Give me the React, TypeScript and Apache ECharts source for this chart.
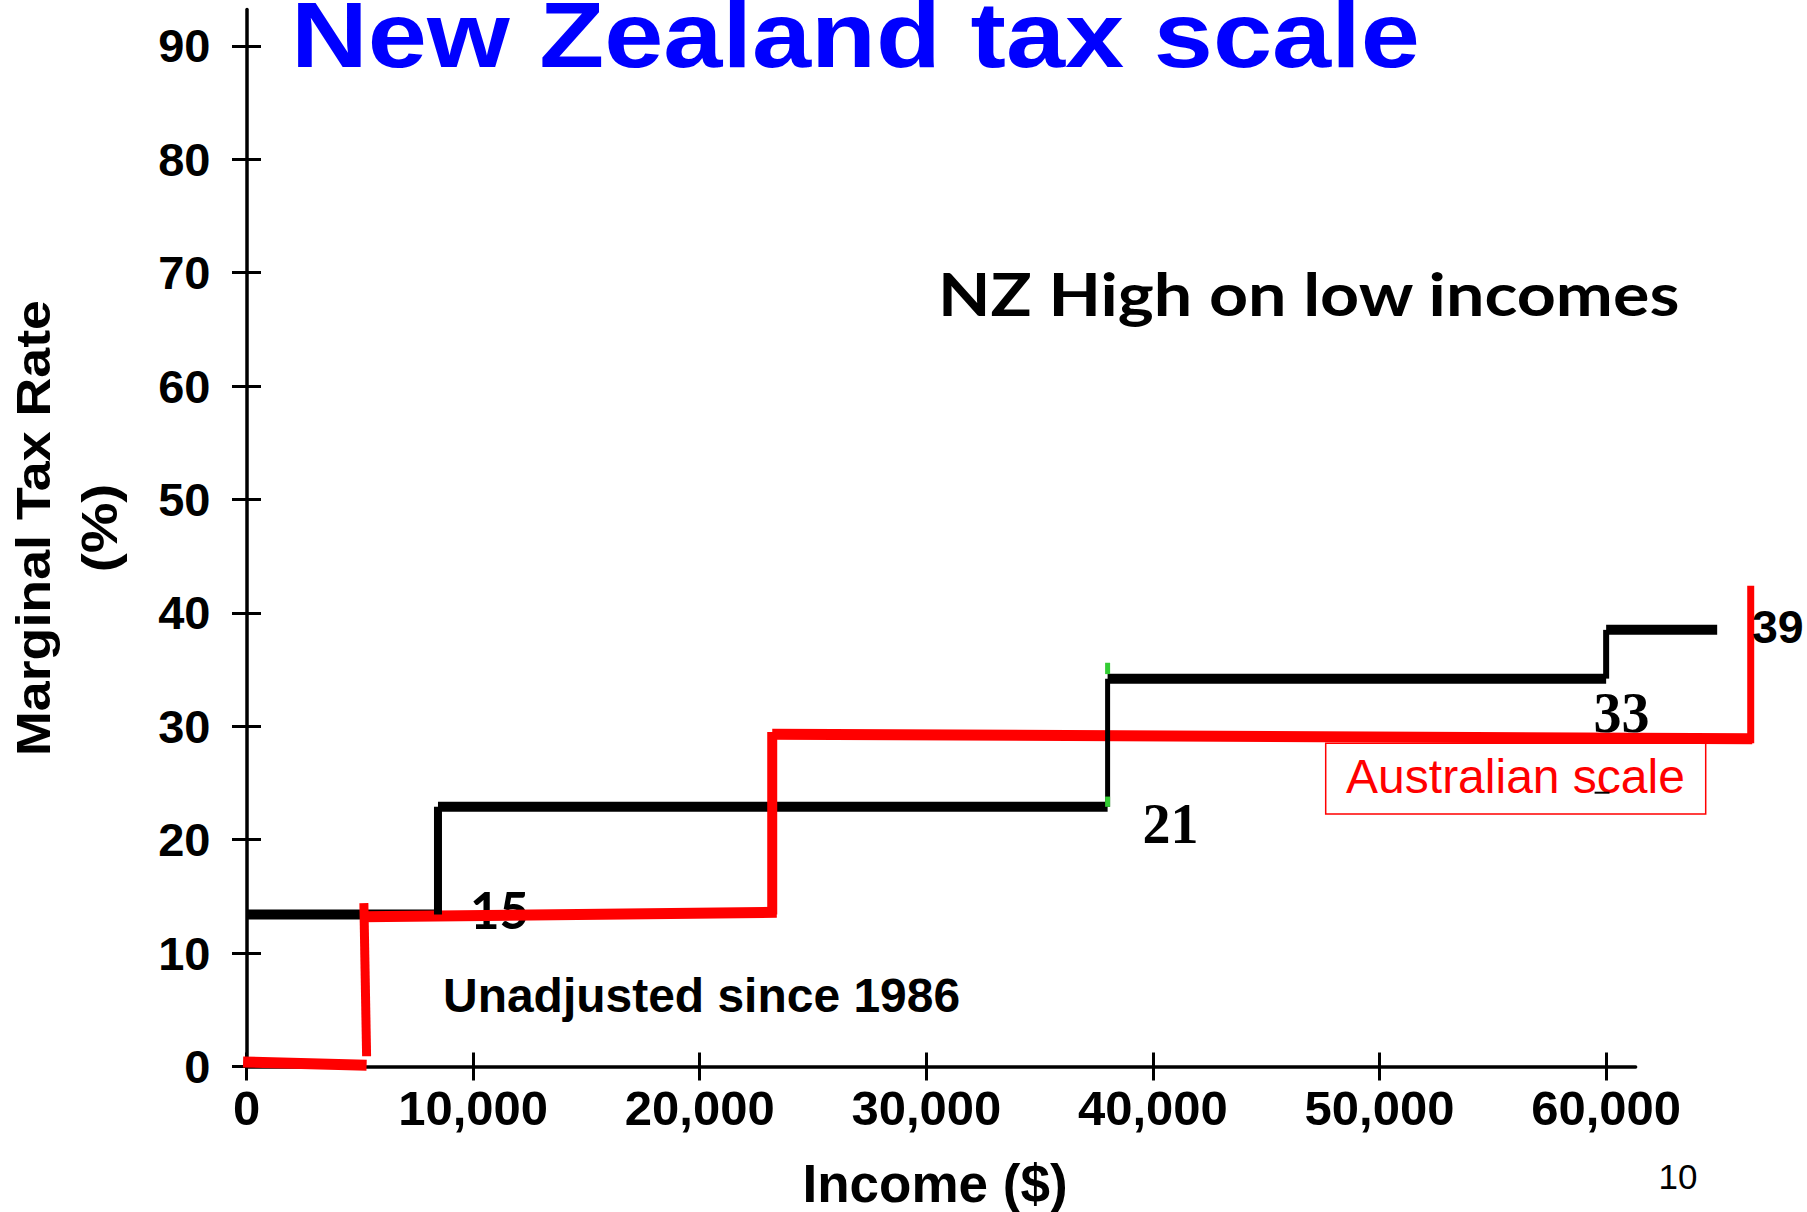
import React, { useEffect, useRef } from "react";
import * as echarts from "echarts";

// ---- axes ----
const xTickValues = [0, 10000, 20000, 30000, 40000, 50000, 60000];
const yTickValues = [0, 10, 20, 30, 40, 50, 60, 70, 80, 90];
const xAxisMax = 61300;
const yAxisMax = 93.2;
// the plotted steps run past the drawn axis: a hidden twin axis with the same scale
const plotXMin = -1000;
const plotXMax = 68000;

// ---- New Zealand scale (as drawn) ----
const nzBracketFrom = [0, 8450, 38000, 60000];
const nzBracketTo = [8450, 38000, 60000, 64900];
const nzRate = [13.4, 22.9, 34.2, 38.5];
const nzRateLabels = ["15", "21", "33", "39"];
// small green ends on the 38,000 riser: [income, from, to]
const nzRiserMarks = [
  [38000, 34.6, 35.6],
  [38000, 22.9, 23.8],
];

// ---- Australian scale (hand-drawn segments) ----
const ausFlat = [
  [[-150, 0.4], [5300, 0.1]],
  [[5150, 13.2], [23400, 13.6]],
  [[23200, 29.3], [66450, 28.9]],
];
const ausRiser = [
  [[5180, 14.4], [5300, 0.9]],
  [[23200, 13.4], [23200, 29.5]],
  [[66380, 28.5], [66380, 42.4]],
];

// ---- texts ----
const titleText = "New Zealand tax scale";
const noteText = "NZ High on low incomes";
const unadjustedText = "Unadjusted since 1986";
const ausLabel = "Australian scale";
const yTitle = ["Marginal Tax Rate", "(%)"];
const xTitle = "Income ($)";
const pageNo = "10";

const SANS = '"Liberation Sans", Arial, Helvetica, sans-serif';
const SERIF = '"Liberation Serif", "Times New Roman", serif';
const GILL = 'Lato, "Open Sans", sans-serif';

// layout (pixels)
const GRID_LEFT = 246.5;
const GRID_RIGHT = 171.4;
const GRID_TOP = 9.5;
const GRID_BOTTOM = 145.5;
const CHART_W = 1807;
const PX_PER_UNIT = (CHART_W - GRID_LEFT - GRID_RIGHT) / xAxisMax;

const fmtThousands = (v: number) =>
  String(Math.round(v)).replace(/\B(?=(\d{3})+(?!\d))/g, ",");

function seg(data: number[][], color: string, width: number, z: number) {
  return {
    type: "line",
    data,
    symbol: "none",
    showSymbol: false,
    clip: false,
    silent: true,
    z,
    xAxisIndex: 2,
    yAxisIndex: 2,
    lineStyle: { color, width, cap: "butt", join: "miter" },
  };
}

function buildSeries() {
  const s: any[] = [];
  const nzFlatW = [10, 10, 10, 10];
  const nzRiserW = [8, 5, 6];
  nzRate.forEach((r, i) => {
    s.push(seg([[nzBracketFrom[i], r], [nzBracketTo[i], r]], "#000000", nzFlatW[i], 2));
  });
  for (let i = 0; i < nzRate.length - 1; i++) {
    s.push(
      seg([[nzBracketTo[i], nzRate[i]], [nzBracketTo[i], nzRate[i + 1]]], "#000000", nzRiserW[i], 4)
    );
  }
  nzRiserMarks.forEach((m) => {
    s.push(seg([[m[0], m[1]], [m[0], m[2]]], "#33cc33", 5, 5));
  });
  const ausFlatW = [11, 11, 11];
  const ausRiserW = [9, 10, 7];
  ausFlat.forEach((d, i) => s.push(seg(d, "#ff0000", ausFlatW[i], 3)));
  ausRiser.forEach((d, i) => s.push(seg(d, "#ff0000", ausRiserW[i], 3)));
  return s;
}

function txt(
  text: string,
  x: number,
  y: number,
  opts: {
    size: number;
    family: string;
    weight?: string;
    color?: string;
    align?: string;
    scaleX?: number;
    rotation?: number;
    z?: number;
  }
) {
  return {
    type: "text",
    x,
    y,
    z: opts.z ?? 10,
    scaleX: opts.scaleX ?? 1,
    rotation: opts.rotation ?? 0,
    silent: true,
    style: {
      text,
      fill: opts.color ?? "#000000",
      fontSize: opts.size,
      fontFamily: opts.family,
      fontWeight: opts.weight ?? "normal",
      align: opts.align ?? "left",
      verticalAlign: "middle",
      textAlign: opts.align ?? "left",
      textVerticalAlign: "middle",
    },
  };
}

function buildOption() {
  const tickLine = { color: "#000000", width: 3 };
  const plotLeft = GRID_LEFT + plotXMin * PX_PER_UNIT;
  const plotRight = CHART_W - (GRID_LEFT + plotXMax * PX_PER_UNIT);
  return {
    animation: false,
    backgroundColor: "#ffffff",
    grid: [
      {
        left: GRID_LEFT,
        right: GRID_RIGHT,
        top: GRID_TOP,
        bottom: GRID_BOTTOM,
        containLabel: false,
        outerBoundsMode: "none",
      },
      {
        left: plotLeft,
        right: plotRight,
        top: GRID_TOP,
        bottom: GRID_BOTTOM,
        containLabel: false,
        outerBoundsMode: "none",
      },
    ],
    xAxis: [
      {
        type: "value",
        gridIndex: 0,
        min: 0,
        max: xAxisMax,
        interval: 10000,
        position: "bottom",
        axisLine: { show: true, onZero: false, lineStyle: { color: "#000000", width: 3.5 } },
        axisTick: { show: true, inside: false, length: 14, lineStyle: tickLine, customValues: xTickValues },
        axisLabel: {
          show: true,
          customValues: xTickValues,
          margin: 17,
          color: "#000000",
          fontFamily: SANS,
          fontWeight: "bold",
          fontSize: 49,
          lineHeight: 49,
          formatter: (v: number) => (xTickValues.includes(v) ? fmtThousands(v) : ""),
        },
        splitLine: { show: false },
        name: xTitle,
        nameLocation: "middle",
        nameGap: 90,
        nameTextStyle: {
          color: "#000000",
          fontFamily: SANS,
          fontWeight: "bold",
          fontSize: 53,
          lineHeight: 53,
          padding: [0, 12, 0, 0],
        },
      },
      {
        type: "value",
        gridIndex: 0,
        min: 0,
        max: xAxisMax,
        interval: 10000,
        position: "bottom",
        axisLine: { show: false, onZero: false },
        axisTick: { show: true, inside: true, length: 14, lineStyle: tickLine, customValues: xTickValues },
        axisLabel: { show: false },
        splitLine: { show: false },
      },
      {
        type: "value",
        gridIndex: 1,
        min: plotXMin,
        max: plotXMax,
        show: false,
        axisLine: { show: false, onZero: false },
        splitLine: { show: false },
      },
    ],
    yAxis: [
      {
        type: "value",
        gridIndex: 0,
        min: 0,
        max: yAxisMax,
        interval: 10,
        position: "left",
        axisLine: { show: true, onZero: false, lineStyle: { color: "#000000", width: 3.5 } },
        axisTick: { show: true, inside: false, length: 14.5, lineStyle: tickLine, customValues: yTickValues },
        axisLabel: {
          show: true,
          customValues: yTickValues,
          margin: 36,
          color: "#000000",
          fontFamily: SANS,
          fontWeight: "bold",
          fontSize: 47,
          lineHeight: 47,
          formatter: (v: number) => (yTickValues.includes(v) ? String(v) : ""),
        },
        splitLine: { show: false },
      },
      {
        type: "value",
        gridIndex: 0,
        min: 0,
        max: yAxisMax,
        interval: 10,
        position: "left",
        axisLine: { show: false, onZero: false },
        axisTick: { show: true, inside: true, length: 14.5, lineStyle: tickLine, customValues: yTickValues },
        axisLabel: { show: false },
        splitLine: { show: false },
      },
      {
        type: "value",
        gridIndex: 1,
        min: 0,
        max: yAxisMax,
        show: false,
        axisLine: { show: false, onZero: false },
        splitLine: { show: false },
      },
    ],
    series: buildSeries(),
    graphic: [
      txt(titleText, 291, 34.6, { size: 92, family: SANS, weight: "bold", color: "#0000ff", scaleX: 1.156 }),
      txt(noteText, 938, 293.5, { size: 60, family: GILL, weight: "bold", scaleX: 1.137 }),
      txt(unadjustedText, 443, 995.8, { size: 47.5, family: SANS, weight: "bold", scaleX: 1.01 }),
      txt(nzRateLabels[0], 499.5, 909.3, { size: 51, family: GILL, weight: "bold", align: "center", z: 1 }),
      txt(nzRateLabels[1], 1170.5, 823.8, { size: 56, family: SERIF, weight: "bold", align: "center" }),
      txt(nzRateLabels[2], 1621.5, 713, { size: 56, family: SERIF, weight: "bold", align: "center" }),
      txt(nzRateLabels[3], 1752, 627.2, { size: 46.5, family: SANS, weight: "bold" }),
      {
        type: "rect",
        z: 10,
        silent: true,
        shape: { x: 1325.7, y: 743.3, width: 380, height: 70.7 },
        style: { fill: "none", stroke: "#ff0000", lineWidth: 1.5 },
      },
      txt(ausLabel, 1515.5, 776.7, { size: 48, family: SANS, color: "#ff0000", align: "center" }),
      {
        type: "line",
        z: 11,
        silent: true,
        shape: { x1: 1594.6, y1: 792.7, x2: 1609.5, y2: 792.7 },
        style: { stroke: "#000000", lineWidth: 2 },
      },
      txt(yTitle[0], 33.7, 528, {
        size: 48,
        family: SANS,
        weight: "bold",
        align: "center",
        scaleX: 1.12,
        rotation: Math.PI / 2,
      }),
      txt(yTitle[1], 99, 528, {
        size: 50,
        family: SANS,
        weight: "bold",
        align: "center",
        scaleX: 1.14,
        rotation: Math.PI / 2,
      }),
      txt(pageNo, 1678, 1176.5, { size: 35, family: SANS, align: "center" }),
    ],
  };
}

export default function App() {
  const ref = useRef<HTMLDivElement>(null);
  useEffect(() => {
    if (!ref.current) return;
    const chart = echarts.init(ref.current, null, { renderer: "svg" });
    chart.setOption(buildOption() as any);
    return () => {
      chart.dispose();
    };
  }, []);
  return (
    <div
      ref={ref}
      style={{
        position: "absolute",
        left: 0,
        top: 0,
        width: 1807,
        height: 1212,
        background: "#ffffff",
      }}
    />
  );
}
